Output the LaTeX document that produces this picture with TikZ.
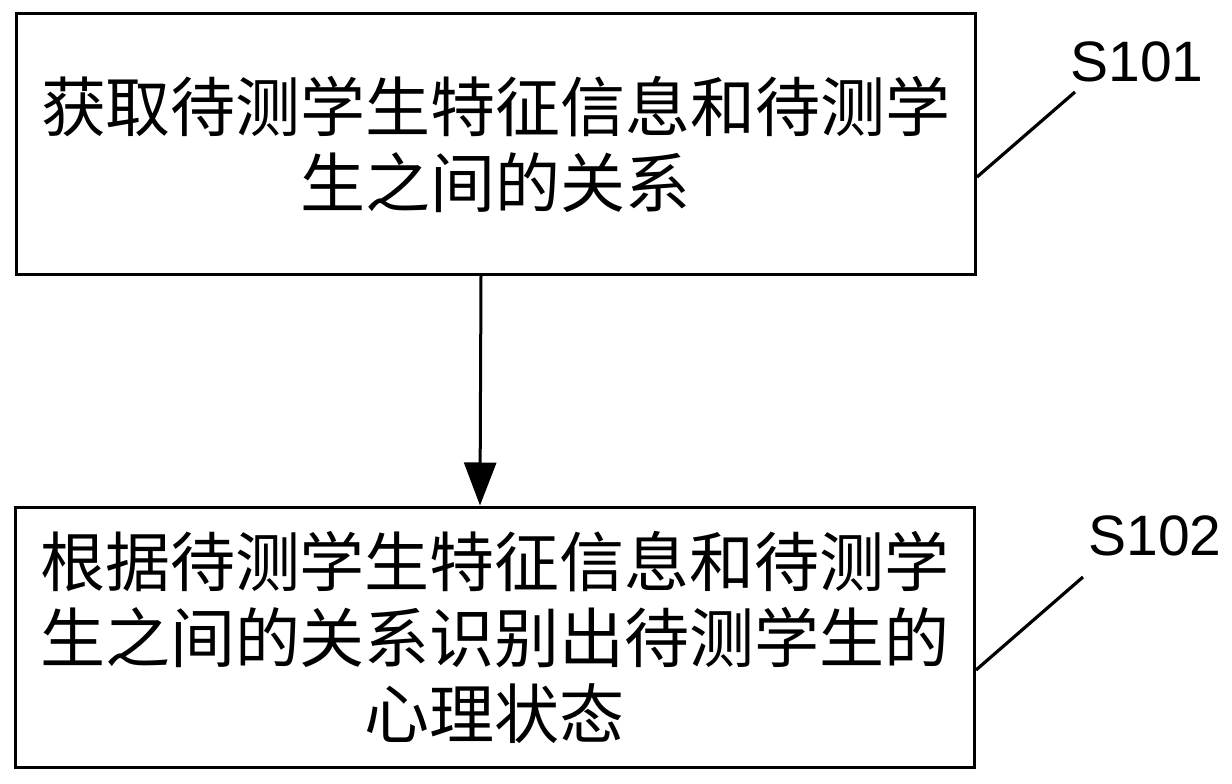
\documentclass[tikz,border=0pt]{standalone}
\usepackage{fontspec}
\setmainfont{Liberation Sans}
\newfontfamily\cjk{Noto Sans CJK SC}
\usepackage{tikz}
\usetikzlibrary{arrows.meta,shapes}

\tikzset{
    stepbox/.style={draw, line width=3pt, minimum width=959pt, minimum height=260pt,
        align=center, font=\cjk\fontsize{65}{76}\selectfont, inner sep=0pt},
    steplabel/.style={font=\fontsize{57}{60}\selectfont, inner sep=0pt},
    leader/.style={line width=3.2pt},
    flow/.style={line width=3pt, -{Triangle[width=32pt,length=43pt]}}
}

\begin{document}
\begin{tikzpicture}[x=1pt,y=-1pt]
    \useasboundingbox (0,0) rectangle (1232,784);

    \node[stepbox] (box1) at (496,144) {获取待测学生特征信息和待测学\\生之间的关系};
    \node[stepbox] (box2) at (495,637) {根据待测学生特征信息和待测学\\生之间的关系识别出待测学生的\\心理状态};

	\node[steplabel] (s101) at (1137,62) {S101};
	\node[steplabel] (s102) at (1155,536) {S102};
    \coordinate (t1) at (1075,92);
    \coordinate (t2) at (1083,577);

    \draw[flow] ([xshift=-15pt]box1.south) -- ([xshift=-15pt]box2.north);
    \draw[leader] ([yshift=-33pt]box1.east) -- (t1);
    \draw[leader] ([yshift=-33pt]box2.east) -- (t2);
\end{tikzpicture}
\end{document}
